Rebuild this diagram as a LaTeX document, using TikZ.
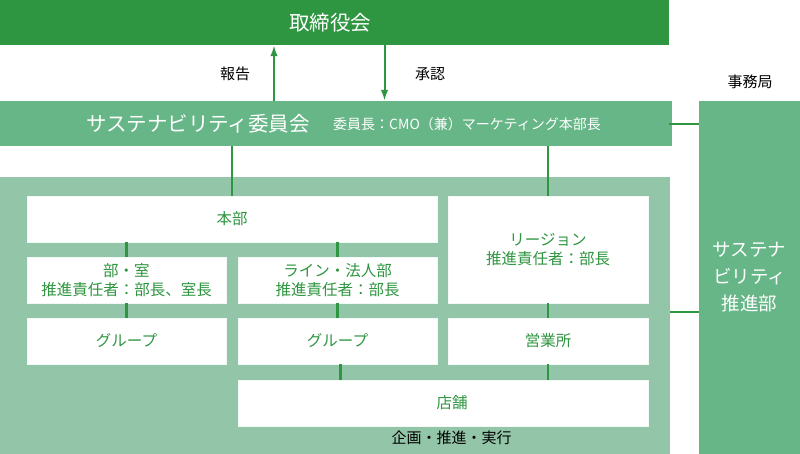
\documentclass[tikz,border=0pt]{standalone}
\usepackage{fontspec}
\setmainfont{Noto Sans CJK JP}
\usetikzlibrary{arrows.meta}
\definecolor{dgreen}{RGB}{46,149,64}
\definecolor{mgreen}{RGB}{103,182,135}
\definecolor{lgreen}{RGB}{147,198,168}
\tikzset{
  bar/.style={fill=dgreen, draw=none, text=white, inner sep=0pt, font=\fontsize{20.5}{24}\selectfont},
  midbar/.style={fill=mgreen, draw=none, text=white, inner sep=0pt},
  area/.style={fill=lgreen, draw=none, inner sep=0pt},
  wbox/.style={fill=white, draw=white!88!lgreen, line width=0.6pt, text=dgreen, inner sep=0pt, align=center, font=\fontsize{15.5}{19}\selectfont},
  conn/.style={draw=dgreen, line width=2.2pt},
  arr/.style={draw=dgreen, line width=2pt, -{Latex[length=11pt,width=7.5pt]}},
  lbl/.style={text=black, inner sep=0pt, font=\fontsize{15}{18}\selectfont},
}
\begin{document}
\begin{tikzpicture}[x=1pt,y=-1pt]
\useasboundingbox (0,0) rectangle (800,454);
% main bars
\node[bar, minimum width=669pt, minimum height=45pt] (board) at (334.5,22.5) {};
\node[text=white, inner sep=0pt, font=\fontsize{20.5}{24}\selectfont] (boardt) at (330,23) {取締役会};
\node[midbar, minimum width=672pt, minimum height=45pt] (comm) at (336,123.5) {};
\node[text=white, inner sep=0pt, font=\fontsize{20.5}{24}\selectfont] (commt) at (198,124) {サステナビリティ委員会};
\node[text=white, inner sep=0pt, anchor=west, font=\fontsize{14}{17}\selectfont] (chair) at (333,124) {委員長：CMO（兼）マーケティング本部長};
\node[midbar, minimum width=101pt, minimum height=353pt, align=center, font=\fontsize{18.5}{27}\selectfont] (office) at (749.5,277.5) {サステナ\\ビリティ\\推進部};
\node[lbl] (jimu) at (750,82) {事務局};
\node[area, minimum width=670pt, minimum height=277pt] (main) at (335,315.5) {};
% inner boxes
\node[wbox, minimum width=410pt, minimum height=46pt] (honbu) at (232,219) {本部};
\node[wbox, minimum width=199pt, minimum height=46pt] (bu) at (126.5,280) {部・室\\推進責任者：部長、室長};
\node[wbox, minimum width=199pt, minimum height=46pt] (line) at (337.5,280) {ライン・法人部\\推進責任者：部長};
\node[wbox, minimum width=200pt, minimum height=107pt] (region) at (548,249.5) {リージョン\\推進責任者：部長};
\node[wbox, minimum width=199pt, minimum height=46pt] (grp1) at (126.5,341) {グループ};
\node[wbox, minimum width=199pt, minimum height=46pt] (grp2) at (337.5,341) {グループ};
\node[wbox, minimum width=200pt, minimum height=46pt] (sales) at (548,341) {営業所};
\node[wbox, minimum width=410pt, minimum height=46pt, label={[text=dgreen, font=\fontsize{15.5}{19}\selectfont, xshift=9pt]center:店舗}] (store) at (443,403) {};
\node[lbl] (plan) at (451.5,438) {企画・推進・実行};
% arrows between board and committee
\coordinate (upx) at (274,0);
\coordinate (dnx) at (384.5,0);
\draw[arr] (comm.north -| upx) -- (board.south -| upx);
\draw[arr] (board.south -| dnx) -- (comm.north -| dnx);
\node[lbl] (report) at (235,74) {報告};
\node[lbl] (approve) at (430,74) {承認};
% connectors
\draw[conn] (comm.south -| honbu.north) -- (honbu.north);
\draw[conn] (comm.south -| region.north) -- (region.north);
\draw[conn] (honbu.south -| bu.north) -- (bu.north);
\draw[conn] (honbu.south -| line.north) -- (line.north);
\draw[conn] (bu.south) -- (grp1.north);
\draw[conn] (line.south) -- (grp2.north);
\draw[conn] ([xshift=3pt]grp2.south) -- ([xshift=3pt]grp2.south |- store.north);
\draw[conn] (region.south) -- (sales.north);
\draw[conn] (sales.south) -- (sales.south |- store.north);
\coordinate (y1) at (0,124);
\coordinate (y2) at (0,312);
\draw[conn] ([xshift=-3pt]comm.east |- y1) -- (office.west |- y1);
\draw[conn] (main.east |- y2) -- (office.west |- y2);
\end{tikzpicture}
\end{document}
